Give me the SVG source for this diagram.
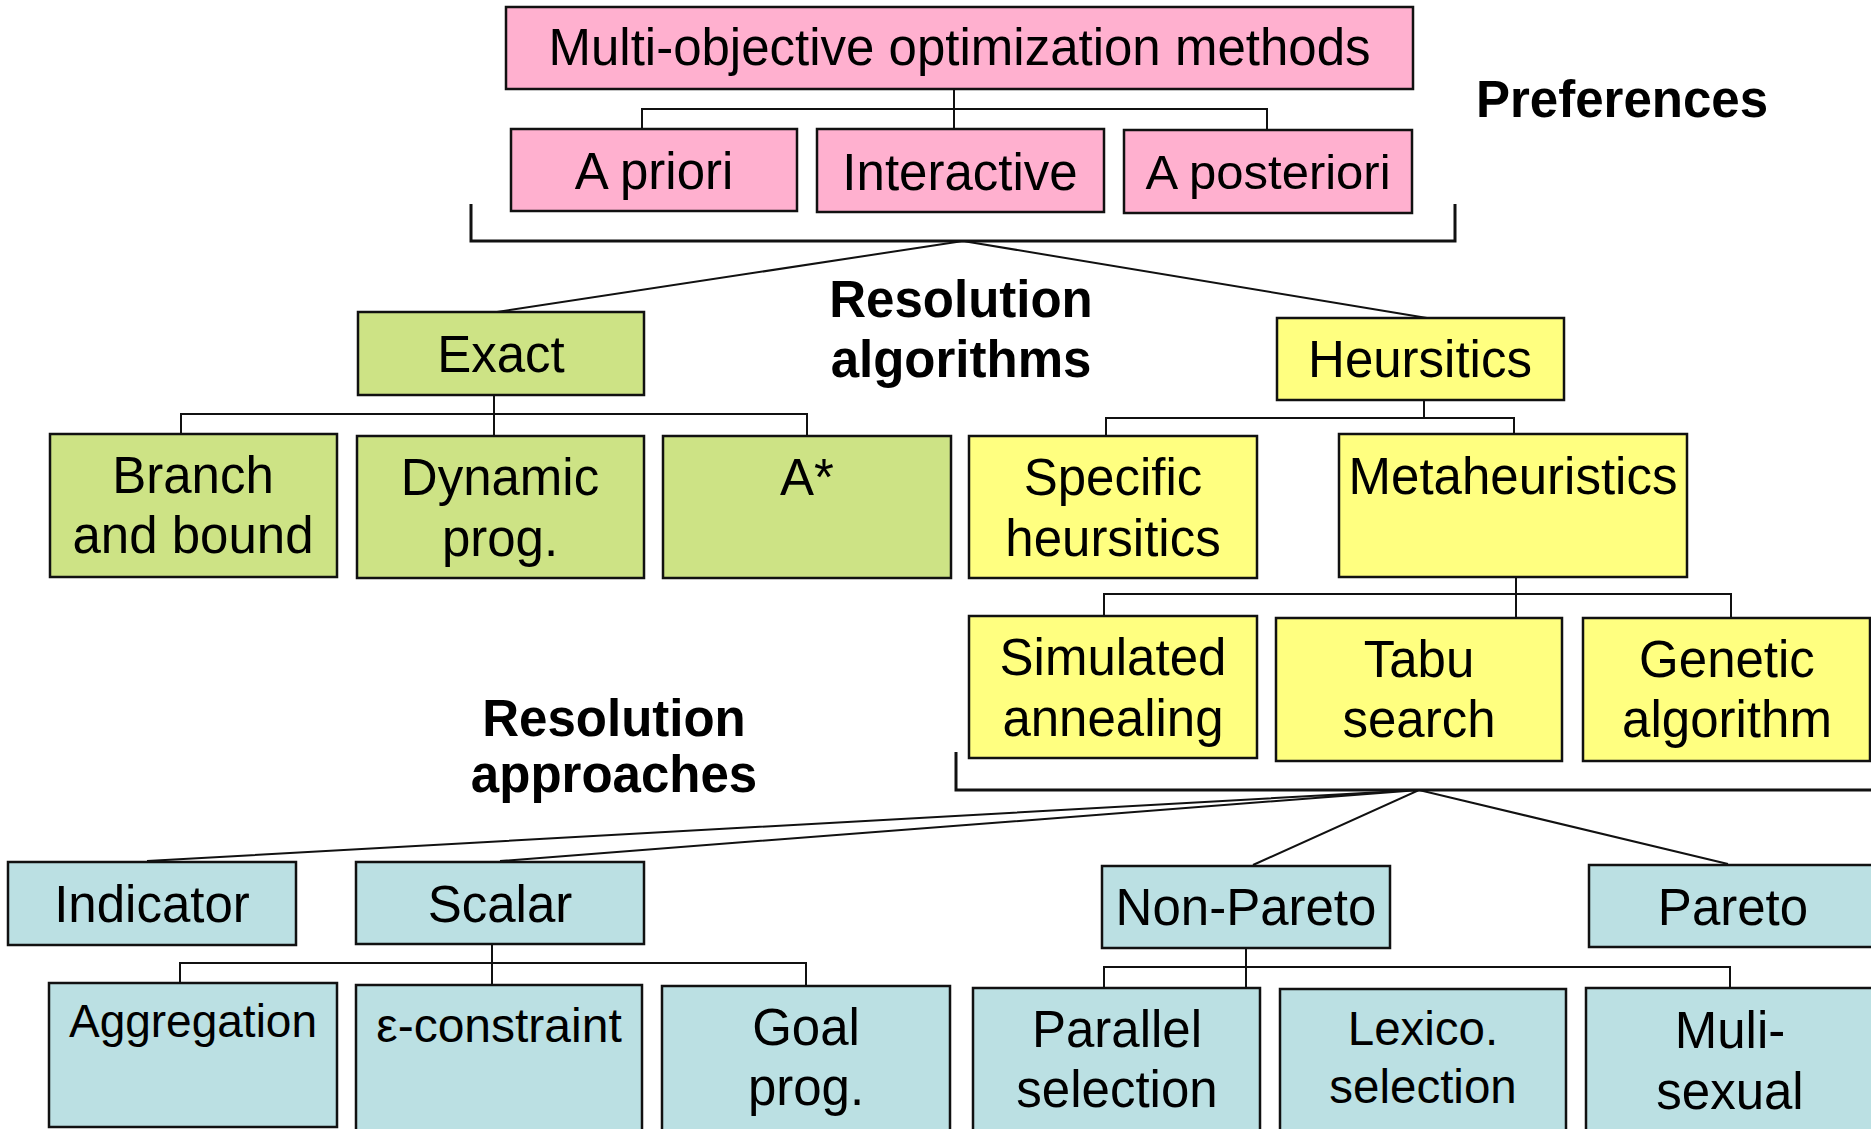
<svg xmlns="http://www.w3.org/2000/svg" width="1871" height="1129" viewBox="0 0 1871 1129">
<style>
rect{stroke:#111;stroke-width:2.5}
.p{fill:#FFB0CF}
.g{fill:#CDE385}
.y{fill:#FFFF80}
.b{fill:#BBE0E3}
text{font-family:"Liberation Sans",Arial,sans-serif;font-size:51px;fill:#000;text-anchor:middle}
.lbl{font-weight:bold}
.s46{font-size:46px}
.s48{font-size:48px}
.s47{font-size:47.5px}
.s49{font-size:49px}
#connectors path{fill:none;stroke:#111;stroke-width:2}
#connectors .br{stroke-width:3}
</style>
<rect x="0" y="0" width="1871" height="1129" fill="#fff" style="stroke:none"/>
<g id="connectors">
<path d="M954 89V129M642 129V109H1267V130"/>
<path class="br" d="M471 204V241H1455V204"/>
<path d="M497 312L963 241L1427 318"/>
<path d="M494 395V436M181 434V414H807V436"/>
<path d="M1424 400V418M1106 436V418H1514V434"/>
<path d="M1516 577V618M1104 616V594H1731V618"/>
<path class="br" d="M956 752V790H1871"/>
<path d="M147 861L1419 790L500 861M1253 865L1419 790L1728 864"/>
<path d="M492 944V985M180 983V963H806V986"/>
<path d="M1246 948V989M1104 988V967H1730V988"/>
</g>
<g id="labels">
<text class="lbl" x="1622" y="117">Preferences</text>
<text class="lbl" x="961" y="317">Resolution</text>
<text class="lbl" x="961" y="377">algorithms</text>
<text class="lbl" x="614" y="736">Resolution</text>
<text class="lbl" x="614" y="792">approaches</text>
</g>
<g id="n-moo"><rect class="p" x="506" y="7" width="907" height="82"/><text x="959.5" y="65">Multi-objective optimization methods</text></g>
<g id="n-apriori"><rect class="p" x="511" y="129" width="286" height="82"/><text x="654" y="189">A priori</text></g>
<g id="n-interactive"><rect class="p" x="817" y="129" width="287" height="83"/><text x="960" y="190">Interactive</text></g>
<g id="n-aposteriori"><rect class="p" x="1124" y="130" width="288" height="83"/><text class="s49" x="1268" y="189">A posteriori</text></g>
<g id="n-exact"><rect class="g" x="358" y="312" width="286" height="83"/><text x="501" y="372">Exact</text></g>
<g id="n-branch"><rect class="g" x="50" y="434" width="287" height="143"/><text x="193" y="493">Branch</text><text x="193" y="553">and bound</text></g>
<g id="n-dynamic"><rect class="g" x="357" y="436" width="287" height="142"/><text x="500" y="495">Dynamic</text><text x="500" y="556">prog.</text></g>
<g id="n-astar"><rect class="g" x="663" y="436" width="288" height="142"/><text x="807" y="495">A*</text></g>
<g id="n-heuristics"><rect class="y" x="1277" y="318" width="287" height="82"/><text x="1420" y="377">Heursitics</text></g>
<g id="n-specific"><rect class="y" x="969" y="436" width="288" height="142"/><text x="1113" y="495">Specific</text><text x="1113" y="556">heursitics</text></g>
<g id="n-meta"><rect class="y" x="1339" y="434" width="348" height="143"/><text x="1513" y="494">Metaheuristics</text></g>
<g id="n-sa"><rect class="y" x="969" y="616" width="288" height="142"/><text x="1113" y="675">Simulated</text><text x="1113" y="736">annealing</text></g>
<g id="n-tabu"><rect class="y" x="1276" y="618" width="286" height="143"/><text x="1419" y="677">Tabu</text><text x="1419" y="737">search</text></g>
<g id="n-ga"><rect class="y" x="1583" y="618" width="287" height="143"/><text x="1727" y="677">Genetic</text><text x="1727" y="737">algorithm</text></g>
<g id="n-indicator"><rect class="b" x="8" y="862" width="288" height="83"/><text x="152" y="922">Indicator</text></g>
<g id="n-scalar"><rect class="b" x="356" y="862" width="288" height="82"/><text x="500" y="922">Scalar</text></g>
<g id="n-aggregation"><rect class="b" x="49" y="983" width="288" height="144"/><text class="s46" x="193" y="1037">Aggregation</text></g>
<g id="n-eps"><rect class="b" x="356" y="985" width="286" height="150"/><text class="s48" x="499" y="1042">ε-constraint</text></g>
<g id="n-goal"><rect class="b" x="662" y="986" width="288" height="150"/><text x="806" y="1045">Goal</text><text x="806" y="1105">prog.</text></g>
<g id="n-nonpareto"><rect class="b" x="1102" y="866" width="288" height="82"/><text x="1246" y="925">Non-Pareto</text></g>
<g id="n-pareto"><rect class="b" x="1589" y="865" width="288" height="82"/><text x="1733" y="925">Pareto</text></g>
<g id="n-parallel"><rect class="b" x="973" y="988" width="287" height="150"/><text x="1117" y="1047">Parallel</text><text x="1117" y="1107">selection</text></g>
<g id="n-lexico"><rect class="b" x="1280" y="989" width="286" height="150"/><text class="s47" x="1423" y="1045">Lexico.</text><text class="s47" x="1423" y="1103">selection</text></g>
<g id="n-muli"><rect class="b" x="1586" y="988" width="287" height="150"/><text x="1730" y="1048">Muli-</text><text x="1730" y="1109">sexual</text></g>
</svg>
